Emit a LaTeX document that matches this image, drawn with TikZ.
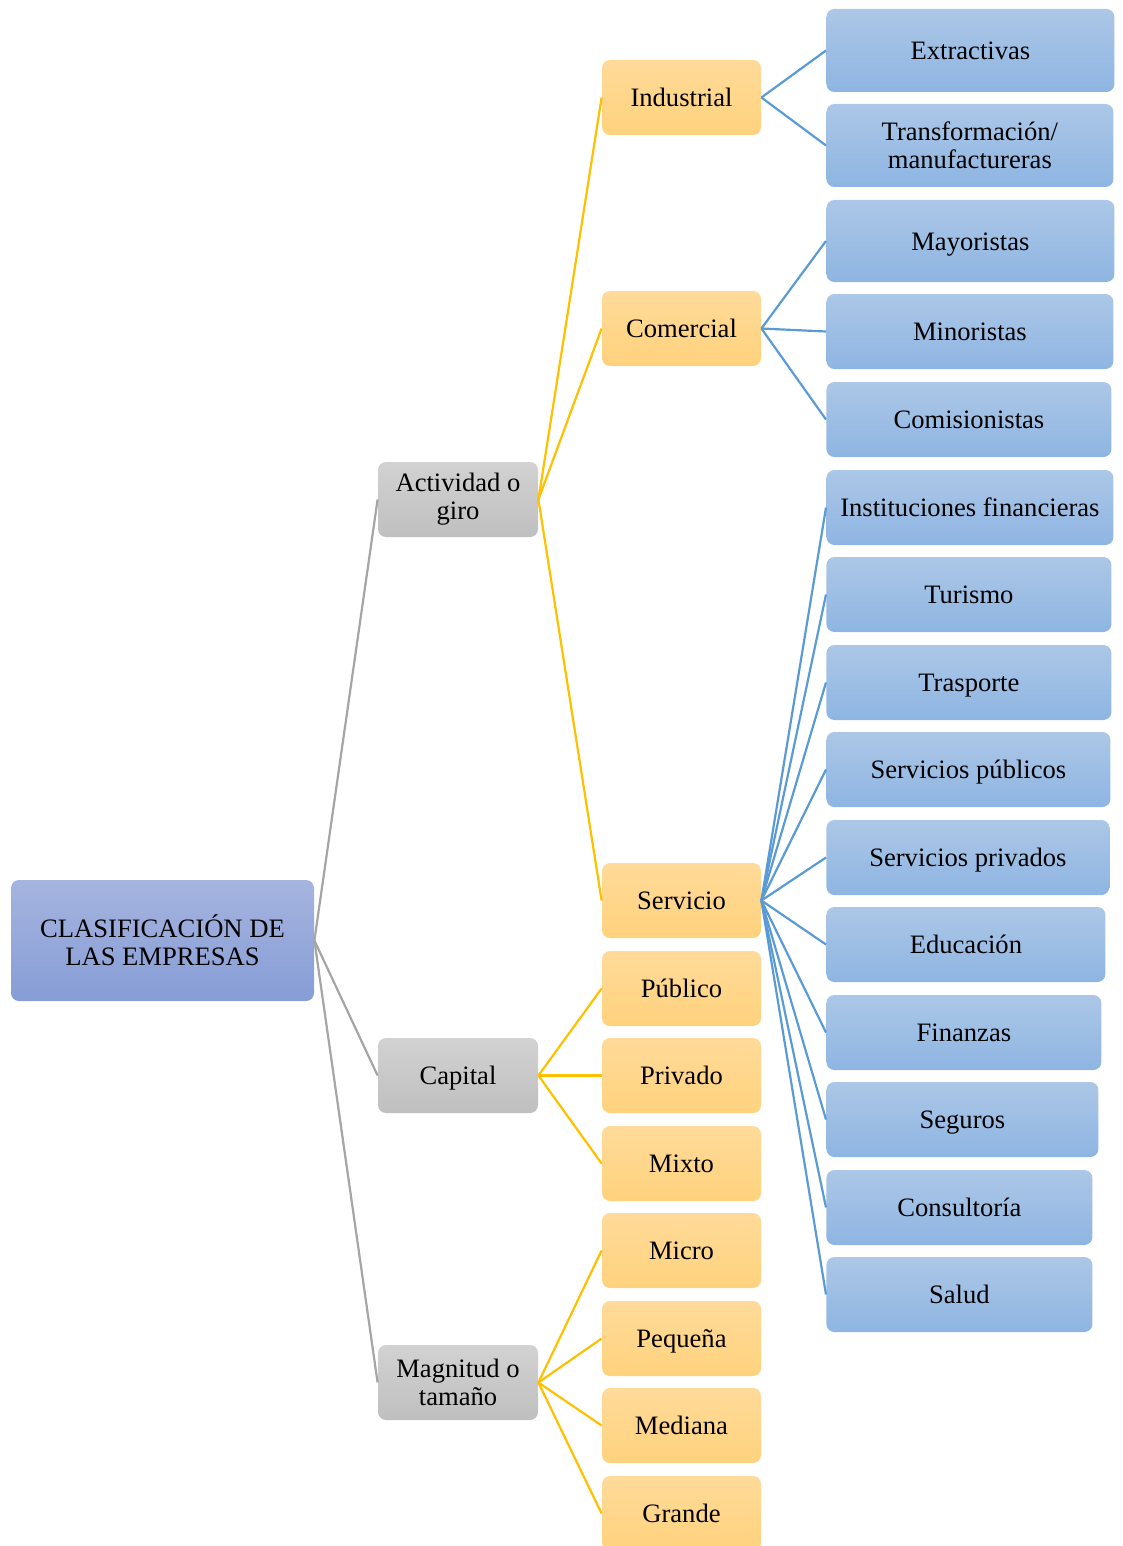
\documentclass[tikz,border=0pt]{standalone}
\usepackage{fontspec}
\setmainfont{Liberation Serif}
\usepackage{tikz}
\usetikzlibrary{calc}

\definecolor{raizA}{RGB}{166,180,223}
\definecolor{raizB}{RGB}{134,157,214}
\definecolor{grisA}{RGB}{210,210,210}
\definecolor{grisB}{RGB}{191,191,191}
\definecolor{amarA}{RGB}{255,218,153}
\definecolor{amarB}{RGB}{255,210,125}
\definecolor{azulA}{RGB}{172,199,231}
\definecolor{azulB}{RGB}{142,181,226}
\definecolor{grisL}{RGB}{165,165,165}
\definecolor{amarL}{RGB}{255,192,0}
\definecolor{azulL}{RGB}{91,155,213}

\begin{document}
\begin{tikzpicture}[x=0.5pt,y=-0.5pt,font=\fontsize{13.3}{14}\selectfont,
    box/.style={rounded corners=4pt,inner sep=0pt,align=center,minimum height=37.5pt},
    una/.style={execute at begin node=\rule[-3pt]{0pt}{15pt}},
    raiz/.style={box,top color=raizA,bottom color=raizB,minimum width=151.5pt,minimum height=60.5pt},
    gris/.style={box,top color=grisA,bottom color=grisB,minimum width=80pt},
    amar/.style={box,una,top color=amarA,bottom color=amarB,minimum width=79.5pt},
    azulb/.style={box,top color=azulA,bottom color=azulB,anchor=west,minimum width=#1},
    azul/.style={azulb=#1,una},
    lg/.style={draw=grisL,line width=1.1pt},
    la/.style={draw=amarL,line width=1.1pt},
    lz/.style={draw=azulL,line width=1.1pt}]
    \clip (0,0) rectangle (1123,1546);
    % raiz y primer nivel
    \node[raiz] (raiz) at (162.5,940.5) {CLASIFICACIÓN DE\\LAS EMPRESAS};
    \node[gris] (act) at (458,499.5) {Actividad o\\giro};
    \node[gris,una] (cap) at (458,1075.5) {Capital};
    \node[gris] (mag) at (458,1382.5) {Magnitud o\\tamaño};
    % segundo nivel
    \node[amar] (ind) at (681.5,97.5) {Industrial};
    \node[amar] (com) at (681.5,328.5) {Comercial};
    \node[amar] (ser) at (681.5,900.5) {Servicio};
    \node[amar] (pub) at (681.5,988.5) {Público};
    \node[amar] (pri) at (681.5,1075.5) {Privado};
    \node[amar] (mix) at (681.5,1163.5) {Mixto};
    \node[amar] (mic) at (681.5,1250.5) {Micro};
    \node[amar] (peq) at (681.5,1338.5) {Pequeña};
    \node[amar] (med) at (681.5,1425.5) {Mediana};
    \node[amar] (gra) at (681.5,1513.5) {Grande};
    % tercer nivel
    \node[azul=144pt,minimum height=41.5pt] (ext) at (826,50.5) {Extractivas};
    \node[azulb=143.5pt,minimum height=41.5pt] (tra) at (826,145.5) {Transformación/\\manufactureras};
    \node[azul=144pt,minimum height=41pt] (may) at (826,241) {Mayoristas};
    \node[azul=143.5pt] (min) at (826,331.5) {Minoristas};
    \node[azul=142.5pt] (cmi) at (826,419.5) {Comisionistas};
    \node[azul=143.5pt] (ins) at (826,507.5) {Instituciones financieras};
    \node[azul=142.5pt] (tur) at (826,594.5) {Turismo};
    \node[azul=142.5pt] (trp) at (826,682.5) {Trasporte};
    \node[azul=142pt] (spu) at (826,769.5) {Servicios públicos};
    \node[azul=141.5pt] (spr) at (826,857.5) {Servicios privados};
    \node[azul=139.5pt] (edu) at (826,944.5) {Educación};
    \node[azul=137.5pt] (fin) at (826,1032.5) {Finanzas};
    \node[azul=136pt] (seg) at (826,1119.5) {Seguros};
    \node[azul=133pt] (con) at (826,1207.5) {Consultoría};
    \node[azul=133pt] (sal) at (826,1294.5) {Salud};
    % conectores
    \draw[lg] (raiz.east) -- (act.west); \draw[lg] (raiz.east) -- (cap.west); \draw[lg] (raiz.east) -- (mag.west);
    \draw[la] (act.east) -- (ind.west); \draw[la] (act.east) -- (com.west); \draw[la] (act.east) -- (ser.west);
    \draw[la] (cap.east) -- (pub.west); \draw[la] (cap.east) -- (pri.west); \draw[la] (cap.east) -- (mix.west);
    \draw[la] (mag.east) -- (mic.west); \draw[la] (mag.east) -- (peq.west);
    \draw[la] (mag.east) -- (med.west); \draw[la] (mag.east) -- (gra.west);
    \draw[lz] (ind.east) -- (ext.west); \draw[lz] (ind.east) -- (tra.west);
    \draw[lz] (com.east) -- (may.west); \draw[lz] (com.east) -- (min.west); \draw[lz] (com.east) -- (cmi.west);
    \draw[lz] (ser.east) -- (ins.west); \draw[lz] (ser.east) -- (tur.west); \draw[lz] (ser.east) -- (trp.west);
    \draw[lz] (ser.east) -- (spu.west); \draw[lz] (ser.east) -- (spr.west); \draw[lz] (ser.east) -- (edu.west);
    \draw[lz] (ser.east) -- (fin.west); \draw[lz] (ser.east) -- (seg.west); \draw[lz] (ser.east) -- (con.west);
    \draw[lz] (ser.east) -- (sal.west);
  \end{tikzpicture}
\end{document}
